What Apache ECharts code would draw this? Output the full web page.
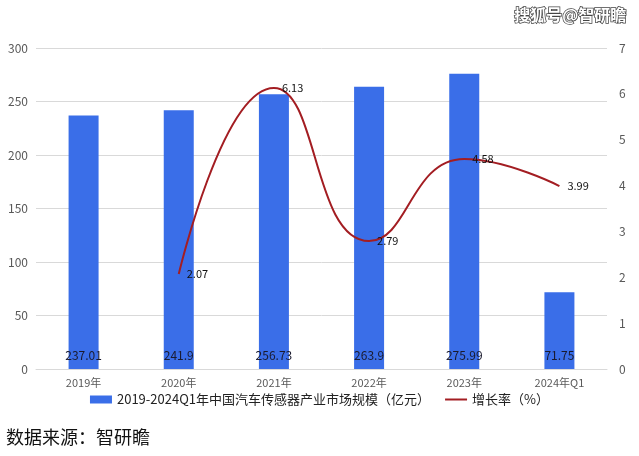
<!DOCTYPE html>
<html><head><meta charset="utf-8">
<script src="https://cdn.jsdelivr.net/npm/echarts@6/dist/echarts.min.js"></script>
<style>html,body{margin:0;padding:0;background:#fff}#c{width:639px;height:456px}</style>
</head><body><div id="c"></div>
<script>
var categories = ['2019年','2020年','2021年','2022年','2023年','2024年Q1'];
var marketSize = [237.01, 241.9, 256.73, 263.9, 275.99, 71.75];
var growthRate = [null, 2.07, 6.13, 2.79, 4.58, 3.99];
var barName = '2019-2024Q1年中国汽车传感器产业市场规模（亿元）';
var lineName = '增长率（%）';
var font = '"Microsoft YaHei","Noto Sans CJK SC",sans-serif';
var chart = echarts.init(document.getElementById('c'));
chart.setOption({
  animation: false,
  textStyle: {fontFamily: font},
  graphic: [
    {type:'text', left: 6, top: 428, style:{text:'数据来源：智研瞻', font:'18px "Noto Sans CJK SC"', fill:'#111'}},
    {type:'text', right: 12, top: 6, style:{text:'搜狐号@智研瞻', font:'bold 16px "Noto Sans CJK SC"', fill:'#fff', stroke:'#444', lineWidth:1.5}}
  ],
  legend: {
    bottom: 45, left: 'center',
    itemWidth: 22, itemHeight: 8, itemGap: 14,
    textStyle: {fontSize: 13, color: '#222', fontFamily: font},
    data: [{name: barName, icon: 'rect'}, {name: lineName, itemStyle:{opacity:0}}]
  },
  grid: {left: 36, right: 32, top: 48, bottom: 87},
  xAxis: {
    type: 'category', data: categories,
    axisLine: {lineStyle: {color: '#d9d9d9'}},
    axisTick: {show: false},
    axisLabel: {color: '#595959', fontSize: 11, margin: 8}
  },
  yAxis: [
    {type:'value', min:0, max:300, interval:50,
     axisLabel:{color:'#595959', fontSize:12, margin:8},
     splitLine:{lineStyle:{color:'#d9d9d9'}}},
    {type:'value', min:0, max:7, interval:1,
     axisLabel:{color:'#595959', fontSize:12, margin:12},
     splitLine:{show:false}}
  ],
  series: [
    {name: barName, type:'bar', data: marketSize, barWidth: 30,
     itemStyle:{color:'#3A6EE8'},
     label:{show:true, position:'insideBottom', distance:8, color:'#1a1a2e', fontSize:12}},
    {name: lineName, type:'line', yAxisIndex:1, data: growthRate, smooth:0.5,
     symbol:'circle', symbolSize:2, showSymbol:true, connectNulls:false,
     lineStyle:{color:'#A31D22', width:2}, itemStyle:{color:'rgba(0,0,0,0)'},
     label:{show:true, position:'right', distance:7, color:'#111', fontSize:11}}
  ]
});
</script></body></html>
